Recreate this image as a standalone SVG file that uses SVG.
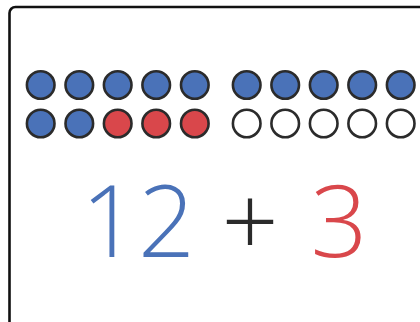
<svg xmlns="http://www.w3.org/2000/svg" width="420" height="322" viewBox="0 0 420 322">
<style>
.c{stroke:#2b2b2b;stroke-width:2.6}
.b{fill:#4a72b8}
.r{fill:#d9474b}
.w{fill:#ffffff}
.t{font-family:"Open Sans",sans-serif;font-weight:300;font-size:100px}
</style>
<rect width="420" height="322" fill="#fff"/>
<g id="frame"><rect x="9.5" y="7" width="440" height="340" rx="6" fill="none" stroke="#111" stroke-width="2.6"/></g>
<g id="row1">
<circle class="c b" cx="40.7" cy="85" r="13.8"/>
<circle class="c b" cx="79.3" cy="85" r="13.8"/>
<circle class="c b" cx="117.7" cy="85" r="13.8"/>
<circle class="c b" cx="156.2" cy="85" r="13.8"/>
<circle class="c b" cx="194.8" cy="85" r="13.8"/>
<circle class="c b" cx="246.7" cy="85" r="13.8"/>
<circle class="c b" cx="285.2" cy="85" r="13.8"/>
<circle class="c b" cx="323.7" cy="85" r="13.8"/>
<circle class="c b" cx="362.2" cy="85" r="13.8"/>
<circle class="c b" cx="400.7" cy="85" r="13.8"/>
</g>
<g id="row2">
<circle class="c b" cx="40.7" cy="123.5" r="13.8"/>
<circle class="c b" cx="79.3" cy="123.5" r="13.8"/>
<circle class="c r" cx="117.7" cy="123.5" r="13.8"/>
<circle class="c r" cx="156.2" cy="123.5" r="13.8"/>
<circle class="c r" cx="194.8" cy="123.5" r="13.8"/>
<circle class="c w" cx="246.7" cy="123.5" r="13.8"/>
<circle class="c w" cx="285.2" cy="123.5" r="13.8"/>
<circle class="c w" cx="323.7" cy="123.5" r="13.8"/>
<circle class="c w" cx="362.2" cy="123.5" r="13.8"/>
<circle class="c w" cx="400.7" cy="123.5" r="13.8"/>
</g>
<g id="equation">
<text class="t" x="138" y="257" text-anchor="middle" fill="#4a72b8">12</text>
<text class="t" x="250" y="257" text-anchor="middle" fill="#2b2b2b">+</text>
<text class="t" x="339" y="257" text-anchor="middle" fill="#d9474b">3</text>
</g>
</svg>
